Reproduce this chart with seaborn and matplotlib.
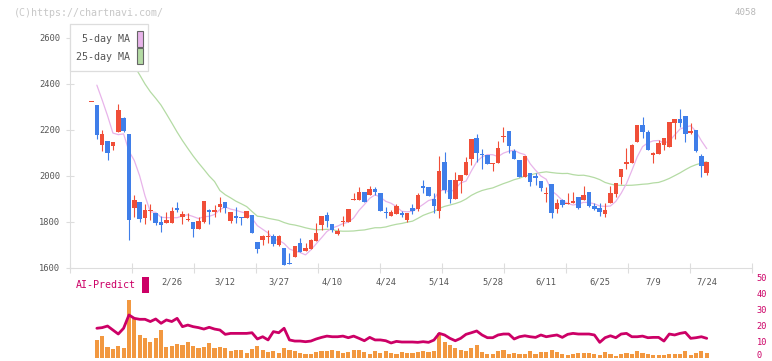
import numpy as np
import pandas as pd
import matplotlib
matplotlib.use("Agg")
import matplotlib.pyplot as plt
import matplotlib.transforms as mtransforms
import seaborn as sns
from matplotlib.patches import Rectangle

# ---------------- data ----------------
opens = [2322, 2309, 2136, 2152, 2132, 2193, 2252, 2183, 1862, 1887,
         1819, 1849, 1839, 1801, 1797, 1797, 1859, 1823, 1812, 1801,
         1771, 1800, 1852, 1845, 1867, 1887, 1806, 1826, 1822, 1819,
         1830, 1713, 1722, 1736, 1739, 1700, 1687, 1623, 1649, 1709,
         1675, 1684, 1719, 1788, 1830, 1791, 1749, 1799, 1801, 1897,
         1897, 1930, 1917, 1943, 1926, 1845, 1827, 1836, 1838, 1809,
         1859, 1855, 1956, 1951, 1900, 1849, 2061, 1983, 1900, 1980,
         2004, 2074, 2165, 2097, 2091, 2055, 2058, 2172, 2196, 2107,
         2068, 1997, 2014, 2000, 1978, 1925, 1965, 1858, 1897, 1877,
         1884, 1907, 1896, 1929, 1870, 1862, 1835, 1884, 1923, 1997,
         2055, 2058, 2149, 2222, 2191, 2090, 2096, 2135, 2127, 2232,
         2249, 2261, 2188, 2200, 2087, 2014]
highs = [2322, 2309, 2200, 2152, 2148, 2312, 2256, 2183, 1917, 1887,
         1878, 1878, 1839, 1826, 1843, 1864, 1887, 1848, 1839, 1801,
         1822, 1891, 1858, 1872, 1909, 1887, 1843, 1865, 1823, 1848,
         1830, 1713, 1743, 1765, 1746, 1743, 1687, 1665, 1694, 1730,
         1707, 1726, 1794, 1826, 1843, 1791, 1772, 1827, 1856, 1926,
         1952, 1930, 1956, 1952, 1926, 1865, 1851, 1880, 1848, 1839,
         1878, 1926, 1983, 1951, 1927, 2088, 2104, 1983, 2016, 2004,
         2084, 2161, 2183, 2117, 2091, 2058, 2151, 2214, 2196, 2117,
         2068, 2087, 2014, 2014, 1978, 1954, 1965, 1899, 1901, 1925,
         1929, 1907, 1956, 1929, 1881, 1881, 1881, 1956, 1970, 2030,
         2122, 2141, 2222, 2256, 2200, 2106, 2156, 2165, 2235, 2246,
         2291, 2261, 2230, 2200, 2096, 2061]
lows = [2322, 2162, 2110, 2071, 2113, 2193, 2190, 1722, 1823, 1801,
        1793, 1810, 1788, 1758, 1797, 1797, 1845, 1793, 1804, 1736,
        1771, 1797, 1793, 1823, 1845, 1838, 1797, 1794, 1788, 1819,
        1754, 1667, 1700, 1710, 1697, 1697, 1614, 1619, 1649, 1668,
        1675, 1684, 1719, 1765, 1777, 1758, 1745, 1784, 1801, 1897,
        1897, 1887, 1917, 1917, 1849, 1819, 1827, 1836, 1820, 1800,
        1835, 1848, 1925, 1914, 1841, 1819, 1925, 1884, 1900, 1927,
        2004, 2049, 2059, 2030, 2054, 2023, 2058, 2148, 2101, 2075,
        1997, 1997, 1955, 1962, 1936, 1888, 1819, 1841, 1864, 1877,
        1881, 1856, 1896, 1864, 1852, 1827, 1823, 1884, 1910, 1965,
        2030, 2056, 2149, 2167, 2114, 2058, 2096, 2114, 2125, 2161,
        2214, 2148, 2184, 2104, 1997, 2006]
closes = [2322, 2180, 2183, 2101, 2148, 2287, 2196, 1809, 1896, 1815,
          1851, 1851, 1797, 1788, 1809, 1848, 1852, 1835, 1813, 1771,
          1804, 1891, 1845, 1852, 1878, 1862, 1843, 1819, 1816, 1848,
          1754, 1684, 1739, 1738, 1704, 1738, 1614, 1619, 1694, 1671,
          1687, 1722, 1752, 1826, 1806, 1765, 1762, 1806, 1856, 1899,
          1930, 1887, 1943, 1932, 1849, 1838, 1845, 1870, 1830, 1839,
          1849, 1917, 1948, 1914, 1871, 2023, 1941, 1900, 1983, 2004,
          2061, 2161, 2100, 2090, 2054, 2057, 2122, 2174, 2132, 2075,
          1997, 2087, 1974, 1993, 1948, 1927, 1838, 1881, 1875, 1884,
          1891, 1861, 1917, 1870, 1855, 1845, 1852, 1926, 1970, 2030,
          2058, 2135, 2222, 2193, 2114, 2100, 2143, 2165, 2235, 2246,
          2232, 2184, 2196, 2109, 2045, 2061]

# moving-average values before enough closes exist
ma5_head = [np.nan, 2395, 2330, 2262]
ma25_head = [2760, 2730, 2700, 2665, 2630, 2590, 2550, 2515, 2478, 2440,
             2400, 2366, 2338, 2308, 2270, 2231, 2191, 2154, 2120, 2087,
             2057, 2029, 2000, 1976]

# lower panel (starts at the 2nd session)
volume = [11, 13.5, 6.7, 5.4, 7.3, 6, 36, 25, 14, 12.3,
          9.8, 12.3, 17.3, 6.7, 7.3, 8.5, 7.9, 9.8, 7.3, 6.3,
          6.7, 9.2, 6, 6.7, 6, 4.2, 4.8, 4.8, 2.9, 5.4,
          7.3, 4.8, 3.5, 4.2, 2.9, 6, 4.8, 4.2, 2.9, 2.3,
          2.3, 3.5, 4.2, 4.2, 4.8, 4.2, 2.9, 3.5, 4.8, 4.8,
          3.5, 2.3, 4.2, 2.9, 4.2, 2.9, 2.3, 3.5, 2.9, 2.9,
          3.5, 4.2, 3.5, 4.2, 15.2, 9.8, 7.9, 6, 4.8, 4.2,
          6, 7.9, 3.5, 2.3, 2.3, 4.2, 4.8, 2.3, 2.9, 2.3,
          2.3, 4.2, 2.3, 3.5, 3.5, 4.8, 3.5, 2.3, 1.7, 2.3,
          2.9, 2.9, 2.9, 2.3, 1.7, 3.5, 2.3, 1, 2.3, 2.9,
          2.3, 4.2, 2.9, 2.3, 1.7, 1.7, 1.7, 2.3, 2.3, 2.3,
          4.2, 1.7, 2.9, 4.2, 2.9]
ai_predict = [18.4, 18.8, 19.8, 17.3, 14.8, 18.4, 26.7, 24.6, 24.0, 24.0,
              22.6, 24.2, 21.5, 23.6, 22.6, 24.6, 19.4, 20.4, 19.4, 18.8,
              17.9, 19.0, 17.9, 17.3, 14.6, 15.2, 15.2, 15.2, 15.2, 15.6,
              11.7, 13.1, 11.1, 16.3, 15.6, 18.4, 11.1, 10.4, 10.4, 10.0,
              10.4, 11.7, 12.7, 13.5, 13.1, 13.1, 13.5, 12.5, 13.5, 12.1,
              10.6, 12.7, 11.1, 11.1, 10.6, 9.2, 10.2, 9.8, 9.8, 9.8,
              9.6, 10.0, 9.6, 11.0, 15.2, 14.2, 12.1, 10.6, 12.1, 14.6,
              15.6, 16.7, 14.2, 12.5, 12.5, 14.2, 14.8, 14.8, 11.7, 13.1,
              13.7, 13.1, 12.7, 14.2, 13.1, 13.7, 14.2, 12.7, 14.6, 15.2,
              14.8, 14.8, 14.8, 14.2, 9.6, 12.5, 13.7, 12.5, 14.8, 15.2,
              13.1, 13.1, 13.5, 12.5, 12.7, 12.7, 10.4, 14.8, 14.2, 15.2,
              15.8, 12.1, 12.5, 13.1, 12.1]

date_labels = ["2/26", "3/12", "3/27", "4/10", "4/24", "5/14",
               "5/28", "6/11", "6/25", "7/9", "7/24"]
label_sessions = [15, 25, 35, 45, 55, 65, 75, 85, 95, 105, 115]
price_ticks = [1600, 1800, 2000, 2200, 2400, 2600]
lower_ticks = [0, 10, 20, 30, 40, 50]

# ---------------- styling ----------------
RED = "#f04e38"
BLUE = "#3f7ee9"
PINK = "#e8b4ea"
GREEN = "#b4dba4"
ORANGE = "#f29840"
CRIMSON = "#cc0066"
GRID = "#dddddd"
TXT = "#555555"

sns.set_theme(style="white")
plt.rcParams['font.family'] = ['DejaVu Sans Mono', 'DejaVu Sans']

W, H = 772, 361
fig = plt.figure(figsize=(W / 100, H / 100), dpi=100)


def px_axes(l, t, r, b):
    return fig.add_axes([l / W, 1 - b / H, (r - l) / W, (b - t) / H])


def fx(px):
    return px / W


def fy(py):
    return 1 - py / H


axl = px_axes(70, 277.7, 752, 357.7)
ax = px_axes(70, 24, 752, 268)
axl.patch.set_visible(False)
ax.patch.set_visible(False)

x_lo, x_hi = -4.02, 123.46

df = pd.DataFrame({"open": opens, "high": highs, "low": lows, "close": closes})
df["idx"] = np.arange(len(df))
df["up"] = df["close"] >= df["open"]

ma5 = df["close"].rolling(5).mean().to_numpy()
ma5[:len(ma5_head)] = ma5_head
ma25 = df["close"].rolling(25).mean().to_numpy()
ma25[:len(ma25_head)] = ma25_head
df["ma5"] = ma5
df["ma25"] = ma25

# moving averages
sns.lineplot(data=df, x="idx", y="ma25", ax=ax, color=GREEN, linewidth=0.9, zorder=2)
sns.lineplot(data=df, x="idx", y="ma5", ax=ax, color=PINK, linewidth=0.9, zorder=2)

# candles
cols = np.where(df["up"], RED, BLUE)
ax.vlines(df["idx"], df["low"], df["high"], colors=cols, linewidth=0.8, zorder=3)
diff = (df["close"] - df["open"]).abs()
min_h = 4.5
bh = np.maximum(diff, min_h)
bb = np.minimum(df["open"], df["close"]) - (bh - diff) / 2
ax.bar(df["idx"], bh, bottom=bb, width=0.84, color=cols, linewidth=0, zorder=4)

ax.set_xlim(x_lo, x_hi)
ax.set_ylim(1600, 1600 + 244 * 200 / 46)
ax.set_xlabel("")
ax.set_ylabel("")
for s in ["top", "right"]:
    ax.spines[s].set_visible(False)
for s in ["left", "bottom"]:
    ax.spines[s].set_color(GRID)
    ax.spines[s].set_linewidth(0.8)

ax.set_yticks(price_ticks)
ax.set_yticklabels([str(t) for t in price_ticks])
ax.tick_params(axis="y", direction="inout", length=6, width=0.8, color=GRID,
               labelsize=6.3, labelcolor=TXT, pad=4, left=True)
grid_x = x_lo + np.arange(12) * (x_hi - x_lo) / 11
ax.set_xticks(grid_x)
ax.set_xticklabels([""] * len(grid_x))
ax.set_xticks(label_sessions, minor=True)
ax.set_xticklabels(date_labels, minor=True)
ax.tick_params(axis="x", which="major", direction="inout", length=7, width=0.8,
               color=GRID, bottom=True)
ax.tick_params(axis="x", which="minor", length=0, labelsize=6.3,
               labelcolor=TXT, pad=6.5, bottom=True, labelbottom=True)
ax.grid(False)

# lower panel
vdf = pd.DataFrame({"idx": np.arange(1, 1 + len(volume)), "vol": volume})
adf = pd.DataFrame({"idx": np.arange(1, 1 + len(ai_predict)), "ai": ai_predict})
axl.bar(vdf["idx"], vdf["vol"], width=0.78, color=ORANGE, linewidth=0, zorder=2)
sns.lineplot(data=adf, x="idx", y="ai", ax=axl, color=CRIMSON, linewidth=2.0, zorder=3)
axl.set_xlim(x_lo, x_hi)
axl.set_ylim(0, 50)
axl.set_xlabel("")
axl.set_ylabel("")
for s in axl.spines.values():
    s.set_visible(False)
axl.set_xticks([])
axl.yaxis.tick_right()
axl.set_yticks(lower_ticks)
axl.set_yticklabels([str(t) for t in lower_ticks])
axl.tick_params(axis="y", length=0, labelsize=6.2, labelcolor=CRIMSON, pad=3.5,
                right=True, left=False)
axl.grid(False)
# keep the bottom "0" label inside the canvas
lift = mtransforms.ScaledTranslation(0, 3 / 100, fig.dpi_scale_trans)
for lab in axl.get_yticklabels():
    if lab.get_text() == "0":
        lab.set_transform(lab.get_transform() + lift)

# legend box
fig.add_artist(Rectangle((fx(70), fy(71)), fx(148) - fx(70), fy(24) - fy(71),
                         transform=fig.transFigure, facecolor="white",
                         edgecolor=GRID, linewidth=0.9, zorder=5))
fig.text(fx(130), fy(39), "5-day MA", ha="right", va="center", size=7.2,
         color=TXT, zorder=6)
fig.text(fx(130), fy(56.5), "25-day MA", ha="right", va="center", size=7.2,
         color=TXT, zorder=6)
fig.add_artist(Rectangle((fx(136.5), fy(46.5)), fx(6), fy(0) - fy(15),
                         transform=fig.transFigure, facecolor=PINK,
                         edgecolor="#666666", linewidth=0.8, zorder=6))
fig.add_artist(Rectangle((fx(136.5), fy(63.5)), fx(6), fy(0) - fy(15),
                         transform=fig.transFigure, facecolor=GREEN,
                         edgecolor="#666666", linewidth=0.8, zorder=6))

# texts
fig.text(fx(14), fy(12.5), "(C)https://chartnavi.com/", ha="left", va="center",
         size=7.2, color="#c8c8c8")
fig.text(fx(757), fy(12.5), "4058", ha="right", va="center", size=6.6,
         color="#b8b8b8")
fig.text(fx(76), fy(285.5), "AI-Predict", ha="left", va="center", size=7.2,
         color=CRIMSON)
fig.add_artist(Rectangle((fx(142), fy(293)), fx(7), fy(0) - fy(16),
                         transform=fig.transFigure, facecolor=CRIMSON,
                         edgecolor="none", zorder=6))

fig.savefig("out.png", dpi=100)
